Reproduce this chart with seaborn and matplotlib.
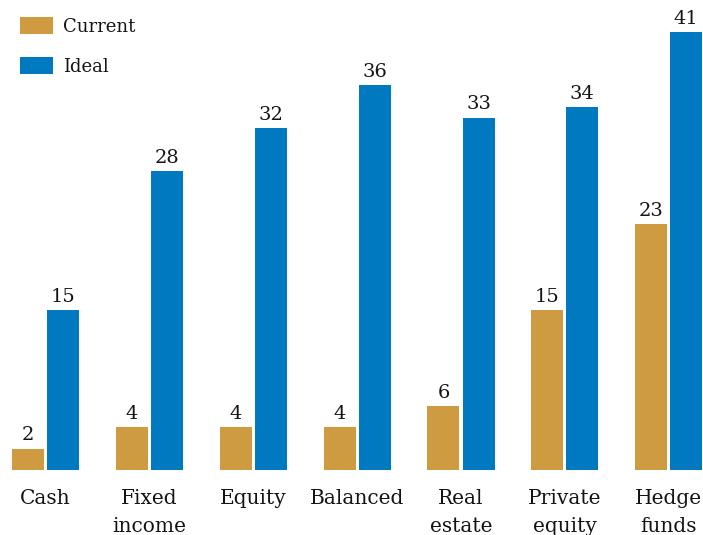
import matplotlib
matplotlib.use("Agg")
import matplotlib.pyplot as plt
import seaborn as sns
import pandas as pd

categories = ["Cash", "Fixed\nincome", "Equity", "Balanced", "Real\nestate", "Private\nequity", "Hedge\nfunds"]
current = [2, 4, 4, 4, 6, 15, 23]
ideal = [15, 28, 32, 36, 33, 34, 41]
series = ["Current", "Ideal"]
colors = ["#CF9B40", "#0079C1"]

df = pd.DataFrame({
    "category": categories * 2,
    "value": current + ideal,
    "series": [series[0]] * len(categories) + [series[1]] * len(categories),
})

sns.set_theme(style="white")
plt.rcParams["font.family"] = ["DejaVu Serif"]
text_color = "#141414"

fig = plt.figure(figsize=(7.03, 5.35), dpi=100)
ax = fig.add_axes([0, 65 / 535, 1, 470 / 535])

sns.barplot(data=df, x="category", y="value", hue="series", palette=colors,
            width=0.675, gap=0.087, saturation=1, linewidth=0, ax=ax, legend=True)

for cont in ax.containers:
    ax.bar_label(cont, padding=3, fontsize=14, color=text_color)

ax.set_xlim(-0.4386, 6.33)
ax.set_ylim(0, 44.0)
ax.set_xlabel("")
ax.set_ylabel("")
ax.set_yticks([])
ax.set_xticks(range(len(categories)))
ax.set_xticklabels(categories, fontsize=14.5, color=text_color, linespacing=1.55, va="top")
ax.tick_params(axis="x", length=0, pad=14)
for s in ax.spines.values():
    s.set_visible(False)

leg = ax.legend(frameon=False, loc="upper left", bbox_to_anchor=(0.018, 0.979),
                fontsize=13, handlelength=1.86, handleheight=1.05,
                handletextpad=0.55, labelspacing=1.2, borderaxespad=0)
for t in leg.get_texts():
    t.set_color(text_color)

fig.savefig("out.png", dpi=100)
